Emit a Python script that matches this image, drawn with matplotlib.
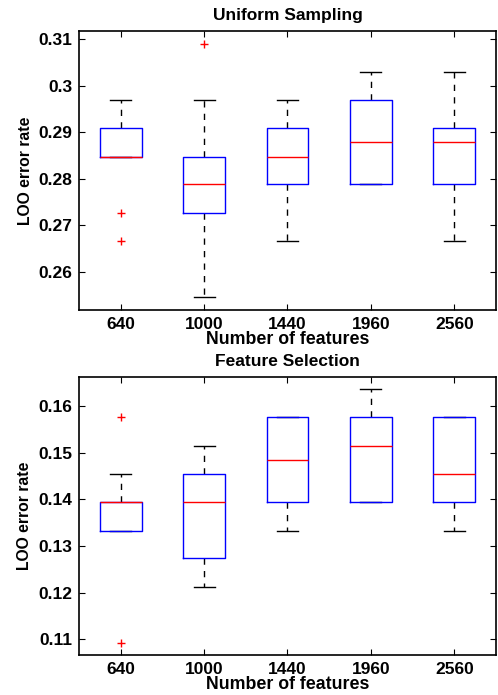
import matplotlib
matplotlib.use("Agg")
import matplotlib.pyplot as plt

plt.rcParams['font.family'] = ['Liberation Sans', 'DejaVu Sans']
plt.rcParams['font.weight'] = 'bold'

categories = ["640", "1000", "1440", "1960", "2560"]

# Uniform Sampling (LOO error rate)
us_whislo = [0.2848, 0.2545, 0.2667, 0.2788, 0.2667]
us_q1     = [0.2848, 0.2727, 0.2788, 0.2788, 0.2788]
us_med    = [0.2848, 0.2788, 0.2848, 0.2879, 0.2879]
us_q3     = [0.2909, 0.2848, 0.2909, 0.2970, 0.2909]
us_whishi = [0.2970, 0.2970, 0.2970, 0.3030, 0.3030]
us_fliers = [[0.2727, 0.2667], [0.3091], [], [], []]
us_yticks = [0.26, 0.27, 0.28, 0.29, 0.30, 0.31]
us_yticklabels = ["0.26", "0.27", "0.28", "0.29", "0.3", "0.31"]

# Feature Selection (LOO error rate)
fs_whislo = [0.1333, 0.1212, 0.1333, 0.1394, 0.1333]
fs_q1     = [0.1333, 0.1273, 0.1394, 0.1394, 0.1394]
fs_med    = [0.1394, 0.1394, 0.1485, 0.1515, 0.1455]
fs_q3     = [0.1394, 0.1455, 0.1576, 0.1576, 0.1576]
fs_whishi = [0.1455, 0.1515, 0.1576, 0.1636, 0.1576]
fs_fliers = [[0.1576, 0.1091], [], [], [], []]
fs_yticks = [0.11, 0.12, 0.13, 0.14, 0.15, 0.16]
fs_yticklabels = ["0.11", "0.12", "0.13", "0.14", "0.15", "0.16"]


def make_stats(lo, q1, med, q3, hi, fl):
    return [dict(whislo=a, q1=b, med=c, q3=d, whishi=e, fliers=f, label=n)
            for a, b, c, d, e, f, n in zip(lo, q1, med, q3, hi, fl, categories)]


def draw(ax, stats, title, yticks, yticklabels, ylim):
    ax.bxp(stats, positions=range(1, len(stats) + 1), widths=0.5,
           showfliers=True,
           boxprops=dict(color='#0000ff', linewidth=1.0, zorder=3),
           medianprops=dict(color='#ff0000', linewidth=1.0, zorder=4),
           whiskerprops=dict(color='black', linestyle=(0, (4.5, 4.5)),
                             linewidth=1.0, zorder=2),
           capprops=dict(color='black', linewidth=1.0, zorder=2),
           flierprops=dict(marker='+', markeredgecolor='#ff0000', markersize=6,
                           linestyle='none'),
           capwidths=0.25)
    ax.set_xlim(0.5, 5.5)
    ax.set_ylim(*ylim)
    ax.set_yticks(yticks)
    ax.set_yticklabels(yticklabels)
    ax.set_xticks(range(1, len(stats) + 1))
    ax.set_xticklabels(categories)
    ax.tick_params(direction='in', top=True, right=True, length=4,
                   labelsize=12.5, width=0.8, pad=5)
    for lab in ax.get_xticklabels() + ax.get_yticklabels():
        lab.set_fontweight('bold')
    for sp in ax.spines.values():
        sp.set_linewidth(1.2)
    ax.set_title(title, fontsize=12.5, fontweight='bold', pad=8)
    ax.set_xlabel("Number of features", fontsize=12.8, fontweight='bold', labelpad=-1)
    ax.set_ylabel("LOO error rate", fontsize=11.3, fontweight='bold', labelpad=4)


fig = plt.figure(figsize=(4.98, 6.95), dpi=100)
ax1 = fig.add_axes([0.1586, 0.554, 0.8374, 0.4014])
ax2 = fig.add_axes([0.1586, 0.0576, 0.8374, 0.4004])

draw(ax1, make_stats(us_whislo, us_q1, us_med, us_q3, us_whishi, us_fliers),
     "Uniform Sampling", us_yticks, us_yticklabels, (0.2518, 0.3118))
draw(ax2, make_stats(fs_whislo, fs_q1, fs_med, fs_q3, fs_whishi, fs_fliers),
     "Feature Selection", fs_yticks, fs_yticklabels, (0.1066, 0.1663))

fig.savefig("out.png", dpi=100)
